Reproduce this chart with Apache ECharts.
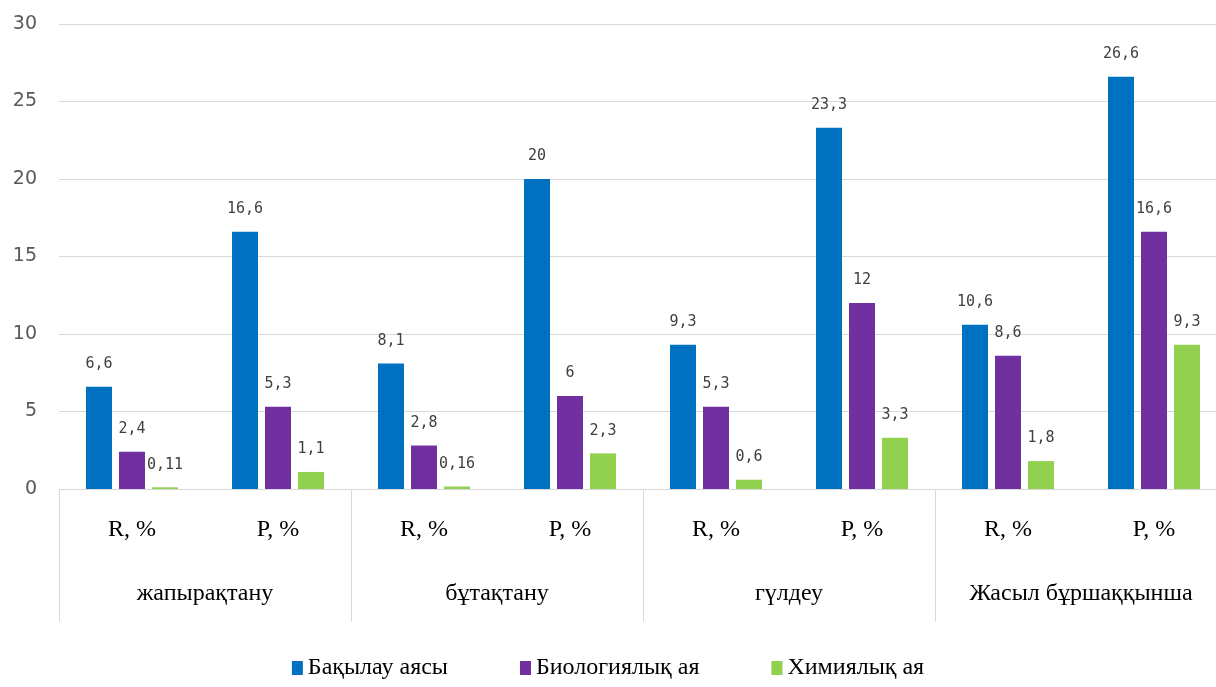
<!DOCTYPE html>
<html>
<head>
<meta charset="utf-8">
<script src="https://cdn.jsdelivr.net/npm/echarts@6/dist/echarts.min.js"></script>
<style>
  html, body { margin: 0; padding: 0; background: #ffffff; }
  #chart { width: 1216px; height: 687px; }
</style>
</head>
<body>
<div id="chart"></div>
<script>
// Sub-categories (inner axis) and phases (outer axis)
const categories = ['R, %', 'P, %', 'R, %', 'P, %', 'R, %', 'P, %', 'R, %', 'P, %'];
const groups = ['жапырақтану', 'бұтақтану', 'гүлдеу', 'Жасыл бұршаққынша'];

// Series values
const control = [6.6, 16.6, 8.1, 20, 9.3, 23.3, 10.6, 26.6];
const biological = [2.4, 5.3, 2.8, 6, 5.3, 12, 8.6, 16.6];
const chemical = [0.11, 1.1, 0.16, 2.3, 0.6, 3.3, 1.8, 9.3];

const seriesNames = ['Бақылау аясы', 'Биологиялық ая', 'Химиялық ая'];
const colors = ['#0070C0', '#7030A0', '#92D050'];

const yTicks = { min: 0, max: 30, interval: 5 };

const chart = echarts.init(document.getElementById('chart'));

const labelStyle = {
  show: true,
  position: 'top',
  distance: 15,
  fontFamily: 'DejaVu Sans Mono',
  fontSize: 15,
  color: '#404040',
  formatter: p => String(p.value).replace('.', ',')
};

function makeSeries(name, data, color) {
  return {
    name: name,
    type: 'bar',
    data: data,
    xAxisIndex: 0,
    barGap: '27%',
    barCategoryGap: '37%',
    itemStyle: { color: color },
    label: labelStyle
  };
}

chart.setOption({
  animation: false,
  backgroundColor: '#ffffff',
  color: colors,
  grid: {
    left: 59, top: 24, bottom: 198, width: 1168,
    containLabel: false,
    outerBoundsMode: 'none'
  },
  legend: {
    bottom: 2,
    left: 'center',
    itemWidth: 11,
    itemHeight: 14,
    itemGap: 72,
    icon: 'rect',
    textStyle: { fontFamily: 'Liberation Serif', fontSize: 24, color: '#000000' },
    data: seriesNames
  },
  xAxis: [
    {
      type: 'category',
      data: categories,
      position: 'bottom',
      axisLine: { show: true, lineStyle: { color: '#d9d9d9', width: 1 } },
      axisTick: { show: false },
      axisLabel: {
        interval: 0,
        margin: 29,
        fontFamily: 'Liberation Serif',
        fontSize: 24,
        color: '#000000'
      }
    },
    {
      type: 'category',
      data: groups,
      position: 'bottom',
      axisLine: { show: false },
      axisTick: { show: true, interval: 0, length: 133, lineStyle: { color: '#d9d9d9', width: 1 } },
      axisLabel: {
        interval: 0,
        margin: 93,
        fontFamily: 'Liberation Serif',
        fontSize: 24,
        color: '#000000'
      }
    }
  ],
  yAxis: {
    type: 'value',
    min: yTicks.min,
    max: yTicks.max,
    interval: yTicks.interval,
    axisLine: { show: false },
    axisTick: { show: false },
    splitLine: { lineStyle: { color: '#d9d9d9', width: 1 } },
    axisLabel: {
      margin: 22,
      fontFamily: 'DejaVu Sans',
      fontSize: 19,
      color: '#595959'
    }
  },
  series: [
    makeSeries(seriesNames[0], control, colors[0]),
    makeSeries(seriesNames[1], biological, colors[1]),
    makeSeries(seriesNames[2], chemical, colors[2])
  ]
});
</script>
</body>
</html>
